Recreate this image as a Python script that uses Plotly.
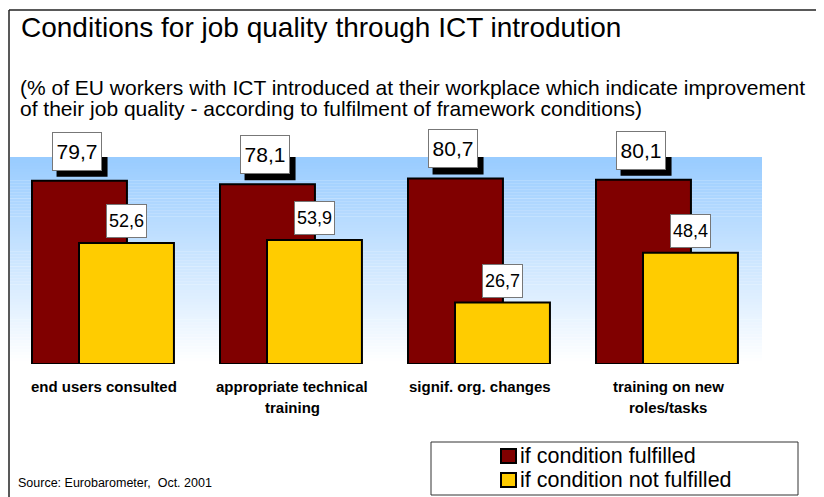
import plotly.graph_objects as go

# ---------------- data ----------------
categories = ["end users consulted", "appropriate technical<br>training",
              "signif. org. changes", "training on new<br>roles/tasks"]
series_names = ["if condition fulfilled", "if condition not fulfilled"]
fulfilled = [79.7, 78.1, 80.7, 80.1]
not_fulfilled = [52.6, 53.9, 26.7, 48.4]

title_text = "Conditions for job quality through ICT introdution"
subtitle_lines = ["(% of EU workers with ICT introduced at their workplace which indicate improvement",
                  "of their job quality - according to fulfilment of framework conditions)"]
source_text = "Source: Eurobarometer,  Oct. 2001"

# ---------------- styling / layout helpers ----------------
OFF = 8                      # default page margin of the html body
W, H = 824 - OFF, 497 - OFF
# plot area in page pixels
PL, PR, PT, PB = 10, 762, 157, 364
FONT = "Liberation Sans, Arial, Helvetica, sans-serif"
RED, YELLOW = "#800000", "#FFCC00"


def px(x):
    return (x - PL) / (PR - PL)


def py(y):
    return (PB - y) / (PB - PT)


def fmt(v):
    return f"{v:.1f}".replace(".", ",")


xs = list(range(len(categories)))
BAR_W = 0.505
RED_LABEL_DX, YEL_LABEL_DX = -0.146, 0.12

fig = go.Figure()
fig.add_trace(go.Bar(x=xs, y=fulfilled, name=series_names[0], width=BAR_W, offset=-0.383,
                     marker=dict(color=RED, line=dict(color="black", width=2)), hoverinfo="skip"))
fig.add_trace(go.Bar(x=xs, y=not_fulfilled, name=series_names[1], width=BAR_W, offset=-0.133,
                     marker=dict(color=YELLOW, line=dict(color="black", width=2)), hoverinfo="skip"))

shapes = []
# gradient background (light blue at top fading to white)
N = 70
top_c, bot_c = (153, 204, 255), (255, 255, 255)
for i in range(N):
    t = i / (N - 1)
    c = tuple(round(top_c[k] + (bot_c[k] - top_c[k]) * t) for k in range(3))
    y1 = 1 - i / N
    y0 = 1 - (i + 1) / N
    shapes.append(dict(type="rect", xref="paper", yref="paper", x0=0, x1=1, y0=y0 - 0.001, y1=y1,
                       fillcolor=f"rgb{c}", line=dict(width=0), layer="below"))
# outer frame lines
shapes.append(dict(type="line", xref="paper", yref="paper", x0=px(9), x1=px(830), y0=py(10), y1=py(10),
                   line=dict(color="#222222", width=1.5)))
shapes.append(dict(type="line", xref="paper", yref="paper", x0=px(9), x1=px(9), y0=py(10), y1=py(500),
                   line=dict(color="#222222", width=1.5)))
# legend box
shapes.append(dict(type="rect", xref="paper", yref="paper", x0=px(431), x1=px(798), y0=py(495), y1=py(442),
                   fillcolor="white", line=dict(color="#333333", width=1)))
# legend symbols
for k, col in enumerate([RED, YELLOW]):
    shapes.append(dict(type="rect", xref="paper", yref="paper", x0=px(501), x1=px(516),
                       y0=py(463 + 24 * k), y1=py(449 + 24 * k),
                       fillcolor=col, line=dict(color="black", width=2)))
# drop shadows behind the "fulfilled" value boxes
for i in xs:
    shapes.append(dict(type="rect", xref="x", yref="y", xsizemode="pixel", ysizemode="pixel",
                       xanchor=xs[i] + RED_LABEL_DX, yanchor=fulfilled[i],
                       x0=-20, x1=31, y0=4, y1=44, fillcolor="black", line=dict(width=0), layer="above"))

annotations = []
annotations.append(dict(text=title_text, xref="paper", yref="paper", x=px(19), y=py(27.5),
                        xanchor="left", yanchor="middle", showarrow=False,
                        font=dict(family=FONT, size=28, color="black")))
for line, yc in zip(subtitle_lines, [87.8, 108.8]):
    annotations.append(dict(text=line, xref="paper", yref="paper", x=px(18), y=py(yc),
                            xanchor="left", yanchor="middle", showarrow=False,
                            font=dict(family=FONT, size=21, color="black")))
annotations.append(dict(text=source_text, xref="paper", yref="paper", x=px(16), y=py(482.6),
                        xanchor="left", yanchor="middle", showarrow=False,
                        font=dict(family=FONT, size=12.5, color="black")))
# legend texts
for k, name in enumerate(series_names):
    annotations.append(dict(text=name, xref="paper", yref="paper", x=px(518), y=py(455.5 + 24 * k),
                            xanchor="left", yanchor="middle", showarrow=False,
                            font=dict(family=FONT, size=21.5, color="black")))

# category labels
for i, cat in enumerate(categories):
    for k, part in enumerate(cat.split("<br>")):
        annotations.append(dict(text=f"<b>{part}</b>", xref="x", yref="paper", x=xs[i], y=py(386.8 + 21 * k),
                                xanchor="center", yanchor="middle", showarrow=False,
                                font=dict(family=FONT, size=15, color="black")))

# value labels
for i in xs:
    annotations.append(dict(xref="x", yref="y", x=xs[i] + RED_LABEL_DX, y=fulfilled[i], xanchor="center",
                            yanchor="bottom", showarrow=False, borderpad=2, borderwidth=1, yshift=10,
                            width=44, height=33, align="center", valign="middle",
                            text=fmt(fulfilled[i]), bgcolor="white", bordercolor="#777777",
                            font=dict(family=FONT, size=21, color="black")))
    annotations.append(dict(xref="x", yref="y", x=xs[i] + YEL_LABEL_DX, y=not_fulfilled[i], xanchor="center",
                            yanchor="bottom", showarrow=False, borderpad=1, borderwidth=1, yshift=5,
                            width=37, height=30, align="center", valign="middle",
                            text=fmt(not_fulfilled[i]), bgcolor="white", bordercolor="#777777",
                            font=dict(family=FONT, size=18, color="black")))

fig.update_layout(
    width=W, height=H,
    margin=dict(l=PL - OFF, r=W - (PR - OFF), t=PT - OFF, b=H - (PB - OFF), pad=0, autoexpand=False),
    paper_bgcolor="white", plot_bgcolor="white",
    barmode="overlay",
    xaxis=dict(range=[-0.5, 3.5], visible=False, fixedrange=True),
    yaxis=dict(range=[0, 90], visible=False, fixedrange=True),
    shapes=shapes, annotations=annotations,
    showlegend=False,
    font=dict(family=FONT),
)

fig.write_html("out.html")
